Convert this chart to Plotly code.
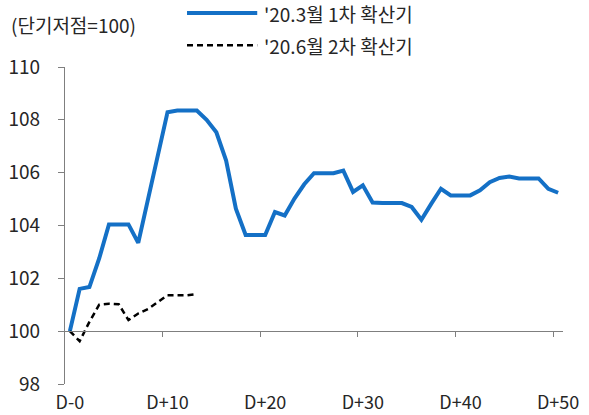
import plotly.graph_objects as go

# Index level since the short-term low (=100), by trading day after the low
days = list(range(51))
wave1 = [100.0, 101.6, 101.67, 102.75, 104.04, 104.04, 104.04, 103.34, 104.95, 106.7,
         108.29, 108.35, 108.35, 108.35, 108.0, 107.53, 106.46, 104.64, 103.64, 103.64,
         103.64, 104.51, 104.38, 105.02, 105.56, 105.98, 105.98, 105.98, 106.08, 105.27,
         105.52, 104.87, 104.85, 104.85, 104.85, 104.7, 104.22, 104.82, 105.39, 105.14,
         105.14, 105.14, 105.33, 105.64, 105.8, 105.85, 105.78, 105.78, 105.78, 105.39,
         105.24]
wave2 = [100.0, 99.62, 100.35, 101.0, 101.04, 101.02, 100.42, 100.67, 100.84, 101.1,
         101.36, 101.36, 101.36, 101.4]

label1 = "'20.3월 1차 확산기"
label2 = "'20.6월 2차 확산기"
y_title = "(단기저점=100)"
label_days = [0, 10, 20, 30, 40, 50]
label_text = ["D-0", "D+10", "D+20", "D+30", "D+40", "D+50"]
boundary_ticks = [9.5, 19.5, 29.5, 39.5, 49.5]

BLUE = "#1470C6"
FONT = "Noto Sans CJK KR"
TXT = "#262626"
AX = "#7F7F7F"
FS = 19

fig = go.Figure()
fig.add_trace(go.Scatter(x=days[:len(wave1)], y=wave1, mode="lines", name=label1,
                         line=dict(color=BLUE, width=4), xaxis="x", yaxis="y"))
fig.add_trace(go.Scatter(x=days[:len(wave2)], y=wave2, mode="lines", name=label2,
                         line=dict(color="black", width=2.5, dash="6px,4px"),
                         xaxis="x2", yaxis="y"))

ymin, ymax = 98, 110
x_range = [-0.5, 50.5]

# manual legend (long line samples) and axis title
shapes = [
    dict(type="line", xref="paper", yref="paper", x0=0.245, x1=0.386, y0=1.170, y1=1.170,
         line=dict(color=BLUE, width=4)),
    dict(type="line", xref="paper", yref="paper", x0=0.245, x1=0.386, y0=1.069, y1=1.069,
         line=dict(color="black", width=2.5, dash="6px,4px")),
]
annotations = [
    dict(text=label1, xref="paper", yref="paper", x=0.396, y=1.170, xanchor="left",
         yanchor="middle", showarrow=False, font=dict(size=FS, color=TXT, family=FONT)),
    dict(text=label2, xref="paper", yref="paper", x=0.396, y=1.069, xanchor="left",
         yanchor="middle", showarrow=False, font=dict(size=FS, color=TXT, family=FONT)),
    dict(text=y_title, xref="paper", yref="paper", x=-0.112, y=1.135, xanchor="left",
         yanchor="middle", showarrow=False, font=dict(size=FS, color=TXT, family=FONT)),
]

fig.update_layout(
    width=589, height=415,
    margin=dict(l=65, r=26, t=67, b=31),
    paper_bgcolor="white", plot_bgcolor="white",
    showlegend=False,
    font=dict(family=FONT, size=FS, color=TXT),
    xaxis=dict(range=x_range, tickvals=label_days, ticktext=label_text, ticks="",
               showline=False, showgrid=False, zeroline=False, ticklabelstandoff=6,
               automargin=False, tickfont=dict(size=18, color=TXT)),
    xaxis2=dict(range=x_range, overlaying="x", anchor="free",
                position=(100 - ymin) / (ymax - ymin), side="bottom",
                tickvals=boundary_ticks, ticks="outside", ticklen=5, tickcolor=AX,
                tickwidth=1, showticklabels=False, showline=True, linecolor=AX,
                linewidth=1.3, showgrid=False, zeroline=False, automargin=False),
    yaxis=dict(range=[ymin, ymax], tickvals=list(range(98, 111, 2)), ticks="outside",
               ticklen=6, tickcolor=AX, showline=True, linecolor=AX, linewidth=1.3,
               showgrid=False, zeroline=False, ticklabelstandoff=14, automargin=False,
               tickfont=dict(size=FS, color=TXT)),
    shapes=shapes, annotations=annotations,
)

fig.write_html("out.html")
